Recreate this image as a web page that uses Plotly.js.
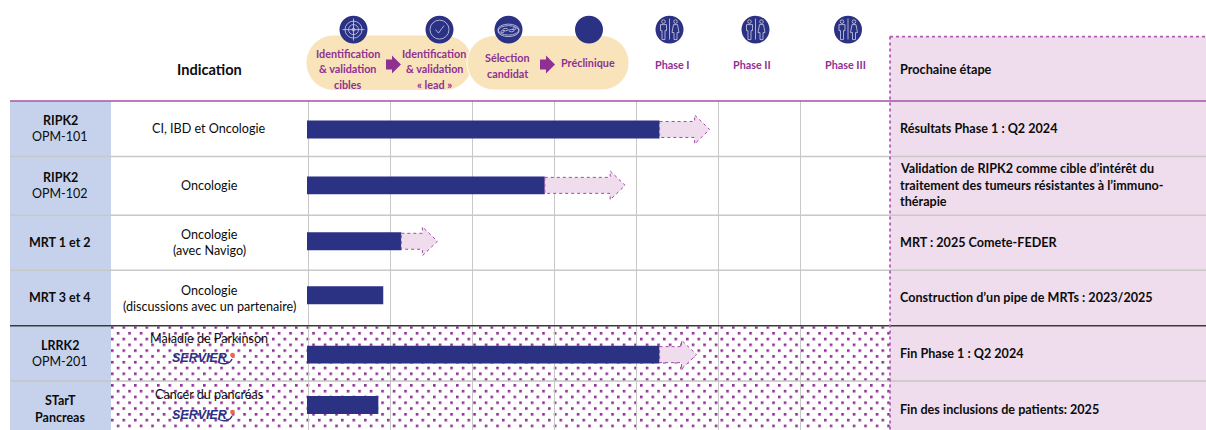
<!DOCTYPE html>
<html><head><meta charset="utf-8">
<script src="https://cdn.plot.ly/plotly-3.0.1.min.js"></script>
<style>html,body{margin:0;padding:0;background:#fff}#c{width:1206px;height:430px}</style>
</head><body><div id="c"></div>
<script>
// ---------- data ----------
const programs = [["RIPK2","OPM-101"],["RIPK2","OPM-102"],["MRT 1 et 2"],["MRT 3 et 4"],["LRRK2","OPM-201"],["STarT","Pancreas"]];
const indications = [["CI, IBD et Oncologie"],["Oncologie"],["Oncologie","(avec Navigo)"],["Oncologie","(discussions avec un partenaire)"],["Maladie de Parkinson"],["Cancer du pancréas"]];
const nextSteps = [["Résultats Phase 1 : Q2 2024"],["Validation de RIPK2 comme cible d’intérêt du","traitement des tumeurs résistantes à l’immuno-","thérapie"],["MRT : 2025 Comete-FEDER"],["Construction d’un pipe de MRTs : 2023/2025"],["Fin Phase 1 : Q2 2024"],["Fin des inclusions de patients: 2025"]];
// progress measured in stages (one grid column = one stage)
const achieved = [4.30, 2.90, 1.15, 0.93, 4.30, 0.87];
const projected = [4.91, 3.88, 1.59, null, 4.75, null];
const stageTicks = [0,1,2,3,4,5,6];
const stageLabels = [["Identification","& validation","cibles"],["Identification","& validation","« lead »"],["Sélection","candidat"],["Préclinique"],["Phase I"],["Phase II"],["Phase III"]];
const colHeader = "Indication", nextHeader = "Prochaine étape", partner = "SERVIER";

// ---------- layout constants (pixels of the 1206x430 page) ----------
const W=1206,H=430,L=307,R=890,T=100.5,B=430,STAGE=82;
const px=x=>(x-L)/(R-L), py=y=>(B-y)/(B-T);
const rowCentre=[129,185,241,295,354.5,405];
const progLines=[[120.5,136.5],[177.5,193.5],[242.5],[297.5],[345.5,361.5],[400.5,417.5]];
const indLines=[[128],[185.5],[234.5,250.5],[290.5,306.5],[338.5],[394.5]];
const nextLines=[[128.5],[168.5,185,201.5],[242.5],[297.5],[353.5],[409.5]];
const stageX=[347.5,434,507,588,672.5,751.5,845.5];
const stageY=[[52.5,67.5,83.5],[52.5,67.5,83.5],[56.5,72.5],[62],[63.5],[63.5],[63.5]];
const circleX=[353.5,439.5,508.5,589,669.5,755.5,848];
const FONT="Lato, Carlito, sans-serif",NAVY="#2B3183",PUR="#8E3193",PALE="#EFDDEE";
const P=(x,y)=>px(x).toFixed(5)+","+py(y).toFixed(5);

const annotations=[],shapes=[];
const text=(s,x,y,o={})=>annotations.push({text:s,x:px(x),y:py(y),xref:"paper",yref:"paper",showarrow:false,
  xanchor:o.anchor||"center",yanchor:"middle",font:{family:o.family||FONT,size:o.size||12,color:o.color||"#0c0c0c"},borderpad:0});
const rect=(x0,y0,x1,y1,fill)=>shapes.push({type:"rect",xref:"paper",yref:"paper",x0:px(x0),x1:px(x1),y0:py(y0),y1:py(y1),fillcolor:fill,line:{width:0},layer:"below"});
const line=(x0,y0,x1,y1,color,width,dash,layer)=>shapes.push({type:"line",xref:"paper",yref:"paper",x0:px(x0),x1:px(x1),y0:py(y0),y1:py(y1),line:{color,width,dash:dash||"solid"},layer:layer||"below"});
const path=(d,o={})=>shapes.push({type:"path",xref:"paper",yref:"paper",path:d,fillcolor:o.fill||"rgba(0,0,0,0)",line:{color:o.color||"#CDD0EA",width:o.width===undefined?0.8:o.width},layer:o.layer||"above"});
const circle=(cx,cy,rx,ry,o={})=>shapes.push({type:"circle",xref:"paper",yref:"paper",x0:px(cx-rx),x1:px(cx+rx),y0:py(cy-ry),y1:py(cy+ry),fillcolor:o.fill||"rgba(0,0,0,0)",line:{color:o.color||"#CDD0EA",width:o.width===undefined?0.8:o.width},layer:"above"});

// table backgrounds
rect(890,36,W,H,PALE);
rect(10,101,111,H,"#C6D2EC");
// row rules
[156,215,270].forEach(y=>line(10,y,W,y,"#C8C8C8",1.5));
line(10,381,W,381,"#C4C4C4",1.5);
line(10,325.5,W,325.5,"#3A3A3A",1.5,null,"above");
line(10,100.5,W,100.5,"#A64FA8",1.5,null,"above");
line(890,36,890,H,"#B45CB4",1.8,"dot","above");
line(890,36,W,36,"#B45CB4",1.8,"dot","above");

// header pills
const pill=(x0,x1,y0,y1,o)=>{const r=(y1-y0)/2,k=r*0.55;
  path("M"+P(x0+r,y0)+" L"+P(x1-r,y0)+" C"+P(x1-r+k,y0)+" "+P(x1,y0+r-k)+" "+P(x1,y0+r)+" C"+P(x1,y0+r+k)+" "+P(x1-r+k,y1)+" "+P(x1-r,y1)+" L"+P(x0+r,y1)+" C"+P(x0+r-k,y1)+" "+P(x0,y0+r+k)+" "+P(x0,y0+r)+" C"+P(x0,y0+r-k)+" "+P(x0+r-k,y0)+" "+P(x0+r,y0)+" Z",o);};
pill(306.5,472,35,89.5,{fill:"#F9E3BA",width:0,layer:"below"});
pill(467,629,35,89.5,{fill:"#F9E3BA",color:"#fff",width:1,layer:"below"});
// purple step arrows
[386,540].forEach(x=>path("M"+P(x,59)+" L"+P(x+6,59)+" L"+P(x+6,55)+" L"+P(x+15,64)+" L"+P(x+6,73)+" L"+P(x+6,69)+" L"+P(x,69)+" Z",{fill:PUR,width:0}));

// header icons
const CY=29;
circleX.forEach(x=>circle(x,CY,14,14,{fill:NAVY,width:0}));
{const x=circleX[0];circle(x,CY,8.5,8.5);circle(x,CY,5,5);circle(x,CY,1.5,1.5);
 path("M"+P(x-11,CY)+" L"+P(x+11,CY));path("M"+P(x,CY-11)+" L"+P(x,CY+11));}
{const x=circleX[1];circle(x,CY,9.5,9.5);path("M"+P(x-4,CY)+" L"+P(x-1,CY+3.5)+" L"+P(x+4.5,CY-4));}
{const x=circleX[2];circle(x,CY,10.5,5.5);circle(x,CY+1.5,10.5,5.5);
 circle(x-3,CY,2.5,1.2);circle(x+3,CY+1,2.5,1.2);circle(x+6,CY-1,1.5,1);circle(x-6,CY+2,1.5,1);}
circleX.slice(4).forEach(x=>{
  circle(x-6,CY-8,1.8,1.8);circle(x+6,CY-8,1.8,1.8);
  path("M"+P(x,CY-11)+" L"+P(x,CY+10));
  path("M"+P(x-9,CY-5)+" L"+P(x-3,CY-5)+" L"+P(x-3,CY+1)+" L"+P(x-4.5,CY+1)+" L"+P(x-4.5,CY+10)+" L"+P(x-7.5,CY+10)+" L"+P(x-7.5,CY+1)+" L"+P(x-9,CY+1)+" Z");
  path("M"+P(x+4,CY-5)+" L"+P(x+8,CY-5)+" L"+P(x+9.5,CY+3)+" L"+P(x+7.5,CY+3)+" L"+P(x+7.5,CY+10)+" L"+P(x+4.5,CY+10)+" L"+P(x+4.5,CY+3)+" L"+P(x+2.5,CY+3)+" Z");
});

// text
stageLabels.forEach((ls,i)=>ls.forEach((s,j)=>text("<b>"+s+"</b>",stageX[i],stageY[i][j],{size:10.8,color:PUR})));
text("<b>"+colHeader+"</b>",209.5,69,{size:14.6});
text("<b>"+nextHeader+"</b>",898.5,68.5,{size:12.7,anchor:"left"});
programs.forEach((ls,i)=>ls.forEach((s,j)=>{
  const bold=j===0||i===5;
  text(bold?"<b>"+s+"</b>":s,60,progLines[i][j],{size:12.5});}));
indications.forEach((ls,i)=>ls.forEach((s,j)=>text(s,209,indLines[i][j],{size:12.6})));
nextSteps.forEach((ls,i)=>ls.forEach((s,j)=>text("<b>"+s+"</b>",898.5,nextLines[i][j],{size:12.6,anchor:"left"})));
// partner logos
[358,415].forEach(y=>{
  text("<b><i>"+partner+"</i></b>",199.5,y,{size:12.5,color:NAVY,family:"Liberation Sans, sans-serif"});
  path("M"+P(218,y+4)+" C"+P(223,y+7)+" "+P(230,y+6)+" "+P(232,y+1),{color:NAVY,width:1.4});
  circle(232.5,y-3,2.4,2.4,{fill:"#EE6A3C",width:0});
});

// dotted background of the partnered rows
const svg='<svg xmlns="http://www.w3.org/2000/svg" width="779" height="104"><defs><pattern id="p" width="11.5" height="11.6" patternUnits="userSpaceOnUse">'+
 '<rect x="0" y="0" width="2.6" height="2.6" fill="#8E2E95"/><rect x="5.75" y="5.8" width="2.6" height="2.6" fill="#8E2E95"/></pattern></defs><rect width="779" height="104" fill="#fff"/><rect width="779" height="104" fill="url(#p)"/></svg>';
const images=[{source:"data:image/svg+xml;charset=utf-8,"+encodeURIComponent(svg),xref:"paper",yref:"paper",x:px(111),y:py(326),sizex:px(890)-px(111),sizey:py(326)-py(430),sizing:"stretch",xanchor:"left",yanchor:"top",layer:"below"}];

// projection arrows: scatter fills, from achieved to projected value
const HEAD=15/STAGE;
const arrows=achieved.map((a,i)=>{
  if(projected[i]===null) return null;
  const e=projected[i],c=rowCentre[i];
  return {type:"scatter",mode:"lines",fill:"toself",fillcolor:PALE,hoverinfo:"skip",showlegend:false,
    line:{color:"#A646A8",width:1,dash:"dot"},
    x:[a,e-HEAD,e-HEAD,e,e-HEAD,e-HEAD,a,a],
    y:[c-8,c-8,c-14.5,c,c+14.5,c+8,c+8,c-8]};
}).filter(Boolean);
const bars={type:"bar",orientation:"h",x:achieved,y:rowCentre,width:18,base:0,marker:{color:NAVY,line:{width:0}},hoverinfo:"skip",showlegend:false};

Plotly.newPlot("c",[...arrows,bars],{
  width:W,height:H,autosize:false,showlegend:false,
  margin:{l:L,r:W-R,t:T,b:H-B,pad:0},
  paper_bgcolor:"#fff",plot_bgcolor:"rgba(0,0,0,0)",
  xaxis:{range:[0,(R-L)/STAGE],tickmode:"array",tickvals:stageTicks.map(v=>v+0.015),showticklabels:false,ticks:"",showgrid:true,gridcolor:"#C8C8C8",gridwidth:1.4,zeroline:false,showline:false,fixedrange:true},
  yaxis:{range:[B,T],showticklabels:false,ticks:"",showgrid:false,zeroline:false,showline:false,fixedrange:true},
  shapes,annotations,images
},{displayModeBar:false,staticPlot:true});
</script></body></html>
